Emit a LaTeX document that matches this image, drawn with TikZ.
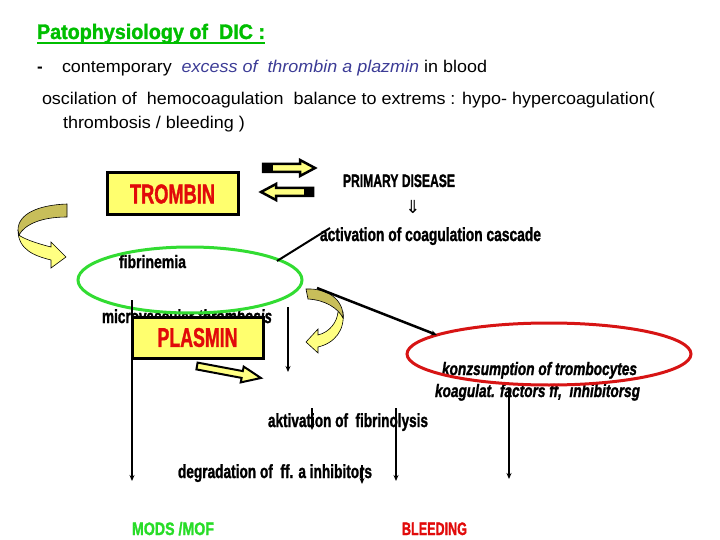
\documentclass[tikz,border=0pt]{standalone}
\usepackage{fontspec}
\setmainfont{Liberation Sans}
\newfontfamily\djv{DejaVu Sans}
\newfontfamily\impf{Liberation Sans}[BoldFeatures={FakeBold=1.6},BoldItalicFeatures={FakeBold=1.6}]
\usepackage{graphicx}
\usetikzlibrary{arrows.meta}
\definecolor{titlegreen}{RGB}{0,190,0}
\definecolor{modsgreen}{RGB}{40,220,40}
\definecolor{ellgreen}{RGB}{50,220,50}
\definecolor{boxred}{RGB}{225,10,10}
\definecolor{ellred}{RGB}{215,20,20}
\definecolor{boxyellow}{RGB}{255,255,110}
\definecolor{lightyel}{RGB}{255,255,130}
\definecolor{olivey}{RGB}{200,190,90}
\definecolor{slateblue}{RGB}{60,60,150}
\newcommand\fitw[2]{\resizebox{#1}{\height}{#2}}
\begin{document}
\begin{tikzpicture}[x=1pt,y=-1pt,
  txt/.style={anchor=base west,inner sep=0pt,outer sep=0pt},
  imp/.style={txt,font=\impf\fontsize{#1}{#1}\selectfont\bfseries},
  imp/.default=19,
  conn/.style={line width=2pt,-{Stealth[length=6pt,width=5pt]}},
  plainline/.style={line width=2pt},
  yellowbox/.style={draw=black,line width=3pt,fill=boxyellow,inner sep=0pt,font=\impf\fontsize{27}{28}\selectfont\bfseries,text=boxred},
  blockarrow/.style={draw=black,line width=2.5pt,fill=lightyel,line join=miter},
  curvedark/.style={draw=black,line width=0.6pt,fill=olivey},
  curvelight/.style={draw=black,line width=0.6pt,fill=lightyel},
]
\path[use as bounding box] (0,0) rectangle (720,540);

% header text
\node[txt,font=\impf\fontsize{21}{22}\selectfont\bfseries,text=titlegreen] (title) at (37,39) {\fitw{228pt}{Patophysiology of\ \ DIC :}};
\draw[titlegreen,line width=1.8pt] ([yshift=-4pt]title.base west) -- ([yshift=-4pt]title.base east);
\node[txt,font=\fontsize{17}{20}\selectfont\bfseries] (dash) at (37,73) {-};
\node[txt,font=\fontsize{17}{20}\selectfont] (l2) at (62,73) {\fitw{425pt}{contemporary\ \ \textcolor{slateblue}{\itshape excess of\ \ thrombin a plazmin} in blood}};
\node[txt,font=\fontsize{17}{20}\selectfont] (l3) at (42,105) {\fitw{613pt}{oscilation of\ \ hemocoagulation\ \ balance to extrems : hypo- hypercoagulation(}};
\node[txt,font=\fontsize{17}{20}\selectfont] (l4) at (63,129) {\fitw{182pt}{thrombosis / bleeding )}};

% trombin box
\node[yellowbox,minimum width=131pt,minimum height=42pt] (trombin) at (172.5,194) {\fitw{85pt}{TROMBIN}};

% double block arrows
\draw[blockarrow] (263,164) -- (300,164) -- (300,160) -- (315,168) -- (300,176) -- (300,172) -- (263,172) -- cycle;
\fill[black] (263,163) rectangle (273,173);
\draw[blockarrow] (313,188) -- (276,188) -- (276,184) -- (261,192) -- (276,200) -- (276,196) -- (313,196) -- cycle;
\fill[black] (304,187) rectangle (314,197);

% texts
\node[imp=18] (prim) at (343,187) {\fitw{112pt}{PRIMARY DISEASE}};
\node[inner sep=0pt,font=\djv\fontsize{18}{18}\selectfont] (dn) at (413,207) {⇓};
\node[imp] (act) at (320,241) {\fitw{221pt}{activation of coagulation cascade}};
\node[imp=18] (fib) at (119,268) {\fitw{67pt}{fibrinemia}};
\node[imp] (micro) at (102,323) {\fitw{170pt}{microvascular \textit{thrombosis}}};
\node[imp=18] (konz) at (442,375) {\fitw{195pt}{\itshape konzsumption of trombocytes}};
\node[imp=18] (koag) at (435,397) {\fitw{205pt}{\itshape koagulat. factors ff,\ \ inhibitorsg}};
\node[imp] (aktiv) at (268,427) {\fitw{160pt}{aktivation of\ \ fibrinolysis}};
\node[imp] (degr) at (178,478) {\fitw{194pt}{degradation of\ \ ff. a inhibitors}};
\node[imp=18,text=modsgreen] (mods) at (132,535) {\fitw{82pt}{MODS /MOF}};
\node[imp=18,text=boxred] (bleed) at (402,535) {\fitw{65pt}{BLEEDING}};

% ellipses
\draw[ellgreen,line width=3pt] (190,280) ellipse [x radius=112, y radius=33];
\draw[ellred,line width=3pt] (549,354) ellipse [x radius=142, y radius=31];

% left curved arrow
\draw[curvelight] (18,230) .. controls (18,250) and (35,256) .. (51,260) -- (51,268) -- (66,257) -- (51,242) -- (51,247) .. controls (35,243) and (22,238) .. (19,235) -- cycle;
\draw[curvedark] (67,204) .. controls (38,205) and (18,214) .. (18,230) -- (19,235) .. controls (25,224) and (42,217) .. (67,217) -- cycle;

% right curved arrow
\draw[curvelight] (343,312) .. controls (345,330) and (335,343) .. (318,347) -- (318,353) -- (306,342) -- (318,329) -- (318,335) .. controls (330,332) and (337,322) .. (338,312) -- cycle;
\draw[curvedark] (306,289) .. controls (328,288) and (344,300) .. (343,318) .. controls (338,308) and (325,300) .. (308,299) -- cycle;

% small straight block arrow
\draw[blockarrow,line width=2pt] (197.6,362.6) -- (242.8,371.1) -- (243.7,366.6) -- (260.9,378.0) -- (240.7,382.4) -- (241.6,377.9) -- (196.4,369.4) -- cycle;

% connectors
\coordinate (a1) at (277,261); \coordinate (a2) at (330,228);
\draw[plainline] (a1) -- (a2);
\coordinate (b1) at (317,288); \coordinate (b2) at (437,335);
\draw[conn,line width=2.5pt] (b1) -- (b2);
\coordinate (c1) at (132,300); \coordinate (c2) at (132,481);
\draw[conn] (c1) -- (c2);
\coordinate (d1) at (288,307); \coordinate (d2) at (288,372);
\draw[conn] (d1) -- (d2);
\coordinate (f1) at (312,408); \coordinate (f2) at (312,430);
\draw[conn] (f1) -- (f2);
\coordinate (g1) at (396,408); \coordinate (g2) at (396,481);
\draw[conn] (g1) -- (g2);
\coordinate (h1) at (362,465); \coordinate (h2) at (362,484);
\draw[conn] (h1) -- (h2);
\coordinate (k1) at (509,389); \coordinate (k2) at (509,479);
\draw[conn] (k1) -- (k2);

% plasmin box
\node[yellowbox,minimum width=131pt,minimum height=41pt] (plasmin) at (197.5,337.5) {\fitw{80pt}{PLASMIN}};
\end{tikzpicture}
\end{document}
